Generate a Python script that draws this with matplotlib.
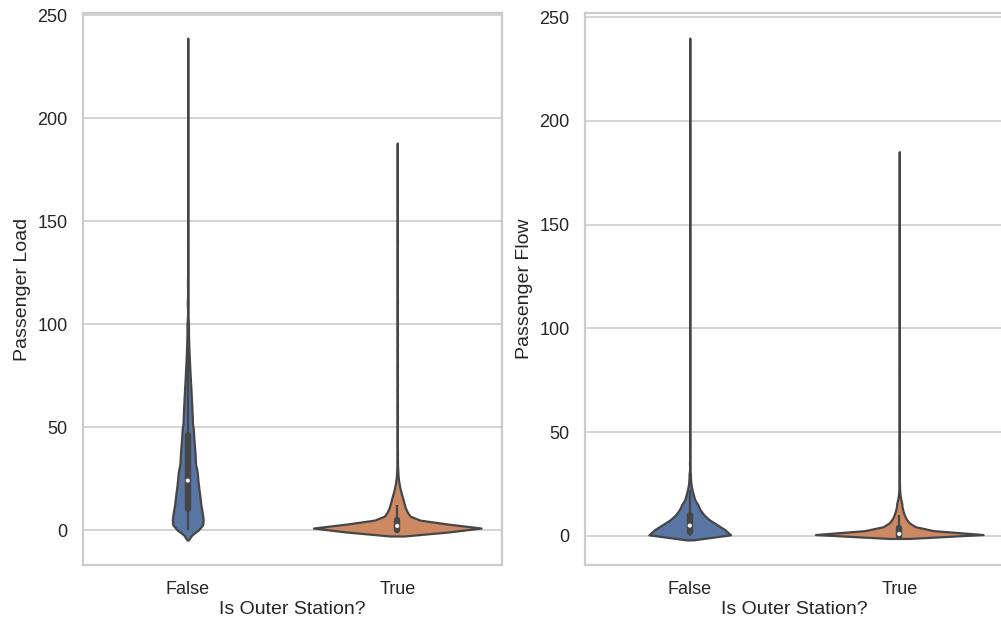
import numpy as np
import pandas as pd
import matplotlib
matplotlib.use("Agg")
import matplotlib.pyplot as plt
import seaborn as sns

# ---------------- data ----------------
categories = ["False", "True"]
x_title = "Is Outer Station?"
y_titles = ["Passenger Load", "Passenger Flow"]

# Passenger Load: observed values and how often each occurs
load_values = [0, 1, 2, 3, 4, 5, 6, 7, 8, 9, 10, 12, 14, 16, 18, 20, 22, 24, 26, 28,
               30, 34, 38, 42, 46, 50, 55, 60, 65, 70, 75, 80, 85, 90, 95, 100,
               110, 120, 140, 160, 185, 210, 234]
load_counts_false = [230, 205, 190, 180, 175, 172, 170, 167, 164, 160, 235, 300, 288, 276, 264, 252, 240, 228, 216, 204,
                     290, 350, 322, 294, 262, 262, 255, 228, 200, 168, 136, 108, 80, 57, 40, 45,
                     30, 22, 12, 8, 5, 3, 2]
load_counts_true = [430, 260, 160, 100, 62, 42, 32, 28, 26, 24, 33, 38, 32, 26, 20, 14, 10, 7, 4, 3,
                    3, 2, 2, 1, 1, 1, 2, 2, 2, 2, 2, 2, 2, 2, 2, 2,
                    2, 2, 2, 2, 1, 0, 0]

# Passenger Flow: observed values and how often each occurs
flow_values = [0, 1, 2, 3, 4, 5, 6, 7, 8, 9, 10, 11, 12, 13, 14, 15, 16, 18, 20, 22,
               24, 26, 28, 30, 35, 40, 45, 50, 60, 70, 80, 90, 100, 120, 140, 160,
               184, 200, 220, 238]
flow_counts_false = [600, 480, 420, 390, 360, 320, 280, 240, 210, 180, 160, 140, 125, 110, 95, 83, 108, 106, 76, 52,
                     34, 22, 15, 16, 8, 5, 4, 4, 4, 3, 3, 3, 3, 3, 2, 2,
                     2, 1, 1, 1]
flow_counts_true = [1150, 780, 450, 280, 190, 140, 110, 90, 75, 63, 54, 46, 40, 34, 29, 24, 30, 28, 18, 12,
                    8, 5, 3, 4, 3, 3, 2, 2, 2, 2, 2, 2, 2, 2, 1, 1,
                    1, 0, 0, 0]

# ---------------- drawing settings ----------------
bw_units = [[2.4, 1.45], [0.95, 0.6]]        # kernel bandwidth per violin (data units)
violin_widths = [[0.147, 0.8], [0.39, 0.8]]  # max violin width per violin
line_gray = "#464646"

sns.set_theme(style="whitegrid")
plt.rcParams["font.family"] = ["Liberation Sans", "DejaVu Sans"]

palette = dict(zip(categories, sns.color_palette("deep", 2)))

fig = plt.figure(figsize=(10.01, 6.23), dpi=100)
W, H = 1001.0, 623.0
axes = [fig.add_axes([83 / W, 58 / H, 419 / W, 552 / H]),
        fig.add_axes([585 / W, 58 / H, 419 / W, 552 / H])]

panels = [(load_values, load_counts_false, load_counts_true),
          (flow_values, flow_counts_false, flow_counts_true)]

for ax, (vals, cf, ct), ytitle, bws, widths in zip(axes, panels, y_titles, bw_units, violin_widths):
    v = np.asarray(vals, dtype=float)
    groups = []
    for cat, counts, bwu, wid in zip(categories, [cf, ct], bws, widths):
        obs = np.repeat(v, counts)
        groups.append(obs)
        df = pd.DataFrame({"outer": [cat] * obs.size, "val": obs})
        sns.violinplot(data=df, x="outer", y="val", order=categories,
                       color=palette[cat], saturation=0.75,
                       bw_method=bwu / np.std(obs, ddof=1), cut=2,
                       inner=None, width=wid, linewidth=1.6,
                       linecolor=line_gray, ax=ax)
    # inner box: whisker, inter-quartile bar, median dot
    for pos, obs in enumerate(groups):
        q1, med, q3 = np.percentile(obs, [25, 50, 75])
        iqr = q3 - q1
        lo = obs[obs >= q1 - 1.5 * iqr].min()
        hi = obs[obs <= q3 + 1.5 * iqr].max()
        ax.plot([pos, pos], [lo, hi], color=line_gray, lw=1.6, zorder=3,
                solid_capstyle="butt")
        ax.plot([pos, pos], [q1, q3], color=line_gray, lw=4.6, zorder=3,
                solid_capstyle="round")
        ax.scatter([pos], [med], s=9, color="white", edgecolors="none", zorder=4)

    ax.set_xlim(-0.5, len(categories) - 0.5)
    ax.set_xticks(range(len(categories)))
    ax.set_xticklabels(categories)
    ax.set_xlabel(x_title, fontsize=14, color="#262626", labelpad=2.5)
    ax.set_ylabel(ytitle, fontsize=14, color="#262626", labelpad=4.5)
    ax.tick_params(axis="both", labelsize=13, colors="#262626", length=0)
    ax.tick_params(axis="y", pad=11)
    ax.tick_params(axis="x", pad=11.5)
    ax.grid(axis="y", color="#cccccc", linewidth=1.2)
    ax.grid(axis="x", visible=False)
    for s in ax.spines.values():
        s.set_color("#cccccc")
        s.set_linewidth(1.6)

fig.savefig("out.png", dpi=100)
